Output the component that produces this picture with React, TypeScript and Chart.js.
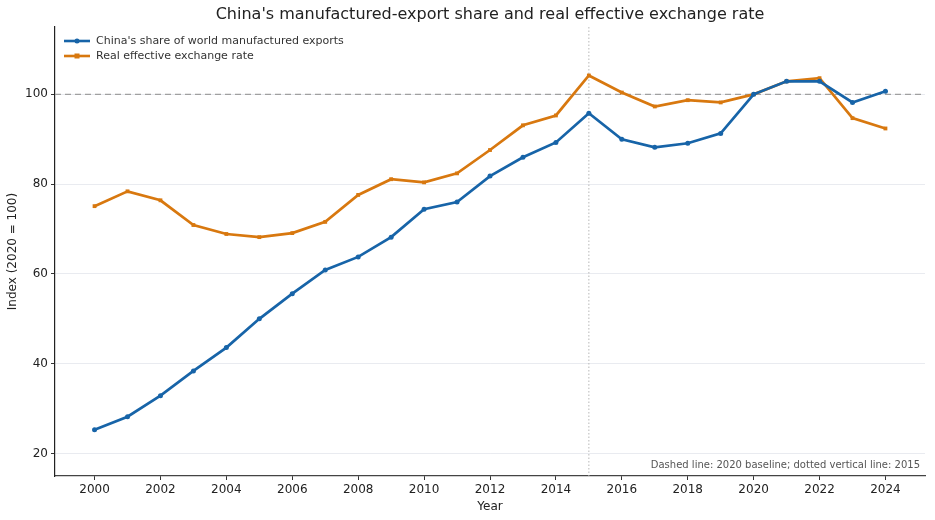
import React, { useEffect, useRef } from "react";
import { Chart, registerables } from "chart.js";

Chart.register(...registerables);

const YEARS = [2000, 2001, 2002, 2003, 2004, 2005, 2006, 2007, 2008, 2009, 2010, 2011, 2012, 2013, 2014, 2015, 2016, 2017, 2018, 2019, 2020, 2021, 2022, 2023, 2024];
const SHARE = [25.3, 28.2, 32.9, 38.4, 43.6, 50.0, 55.6, 60.9, 63.8, 68.2, 74.4, 76.0, 81.8, 86.0, 89.3, 95.8, 90.0, 88.2, 89.1, 91.3, 100.0, 102.9, 102.9, 98.2, 100.7];
const REER = [75.1, 78.4, 76.4, 70.9, 68.9, 68.2, 69.1, 71.6, 77.6, 81.1, 80.4, 82.4, 87.6, 93.1, 95.3, 104.2, 100.4, 97.3, 98.7, 98.2, 100.0, 102.9, 103.6, 94.7, 92.4];
const X_TICKS = [2000, 2002, 2004, 2006, 2008, 2010, 2012, 2014, 2016, 2018, 2020, 2022, 2024];
const Y_TICKS = [20, 40, 60, 80, 100];
const SERIES_LABELS = ["China's share of world manufactured exports", "Real effective exchange rate"];
const TITLE = "China's manufactured-export share and real effective exchange rate";
const NOTE = "Dashed line: 2020 baseline; dotted vertical line: 2015";
const BASELINE = 100;
const MARK_YEAR = 2015;

const BLUE = "#1764a8";
const ORANGE = "#d8780f";
const FONT = "'DejaVu Sans', sans-serif";

const overlayPlugin = {
  id: "overlay",
  beforeDatasetsDraw(chart: any) {
    const { ctx, chartArea, scales } = chart;
    const x = scales.x;
    const y = scales.y;
    ctx.save();
    // baseline dashed
    const yb = y.getPixelForValue(BASELINE);
    ctx.strokeStyle = "#a0a0a0";
    ctx.lineWidth = 1.4;
    ctx.setLineDash([6, 4]);
    ctx.beginPath();
    ctx.moveTo(chartArea.left, yb);
    ctx.lineTo(chartArea.right, yb);
    ctx.stroke();
    // dotted vertical
    const xv = x.getPixelForValue(MARK_YEAR);
    ctx.strokeStyle = "#b8b8b8";
    ctx.lineWidth = 1;
    ctx.setLineDash([1.5, 2]);
    ctx.beginPath();
    ctx.moveTo(xv, chartArea.top);
    ctx.lineTo(xv, chartArea.bottom);
    ctx.stroke();
    ctx.restore();
  },
  afterDraw(chart: any) {
    const { ctx, chartArea } = chart;
    ctx.save();
    // title
    ctx.fillStyle = "#222";
    ctx.font = `16px ${FONT}`;
    ctx.textAlign = "center";
    ctx.textBaseline = "middle";
    ctx.fillText(TITLE, (chartArea.left + chartArea.right) / 2, 15);
    // legend
    const colors = [BLUE, ORANGE];
    const styles = ["circle", "rect"];
    ctx.font = `11px ${FONT}`;
    ctx.textAlign = "left";
    for (let i = 0; i < 2; i++) {
      const ly = chartArea.top + 14 + i * 15;
      ctx.strokeStyle = colors[i];
      ctx.lineWidth = 2.6;
      ctx.setLineDash([]);
      ctx.beginPath();
      ctx.moveTo(chartArea.left + 9, ly);
      ctx.lineTo(chartArea.left + 35, ly);
      ctx.stroke();
      ctx.fillStyle = colors[i];
      const cx = chartArea.left + 22;
      if (styles[i] === "circle") {
        ctx.beginPath();
        ctx.arc(cx, ly, 2.5, 0, Math.PI * 2);
        ctx.fill();
      } else {
        ctx.fillRect(cx - 2.5, ly - 2.5, 5, 5);
      }
      ctx.fillStyle = "#333";
      ctx.fillText(SERIES_LABELS[i], chartArea.left + 41, ly + 0.5);
    }
    // note
    ctx.font = `10px ${FONT}`;
    ctx.fillStyle = "#555";
    ctx.textAlign = "right";
    ctx.fillText(NOTE, chartArea.right - 5, chartArea.bottom - 11);
    ctx.restore();
  },
};

export default function App() {
  const ref = useRef<HTMLCanvasElement | null>(null);
  useEffect(() => {
    document.body.style.margin = "0";
    const canvas = ref.current!;
    const chart = new Chart(canvas, {
      type: "line",
      data: {
        datasets: [
          {
            label: SERIES_LABELS[0],
            data: YEARS.map((yr, i) => ({ x: yr, y: SHARE[i] })),
            borderColor: BLUE,
            backgroundColor: BLUE,
            borderWidth: 2.7,
            pointStyle: "circle",
            pointRadius: 2.5,
            pointBorderWidth: 0,
            tension: 0,
          },
          {
            label: SERIES_LABELS[1],
            data: YEARS.map((yr, i) => ({ x: yr, y: REER[i] })),
            borderColor: ORANGE,
            backgroundColor: ORANGE,
            borderWidth: 2.7,
            pointStyle: "rect",
            pointRadius: 2.7,
            pointBorderWidth: 0,
            tension: 0,
          },
        ],
      },
      plugins: [overlayPlugin],
      options: {
        responsive: false,
        animation: false,
        devicePixelRatio: 1,
        layout: { padding: { top: 27, right: 10, left: 0, bottom: 0 } },
        plugins: {
          legend: { display: false },
          title: { display: false },
          tooltip: { enabled: false },
        },
        scales: {
          x: {
            type: "linear",
            min: 1998.8,
            max: 2025.2,
            afterBuildTicks: (axis: any) => {
              axis.ticks = X_TICKS.map((v) => ({ value: v }));
            },
            afterFit: (axis: any) => {
              axis.height = 44;
            },
            grid: {
              drawOnChartArea: false,
              drawTicks: true,
              tickLength: 4,
              tickColor: "#333",
            },
            border: { display: true, color: "#444", width: 1.2 },
            ticks: {
              autoSkip: false,
              maxRotation: 0,
              padding: 3,
              color: "#222",
              font: { family: FONT, size: 12 },
              callback: (v: any) => String(v),
            },
            title: {
              display: true,
              text: "Year",
              color: "#222",
              font: { family: FONT, size: 12 },
              padding: { top: 0, bottom: 6 },
            },
          },
          y: {
            type: "linear",
            min: 15,
            max: 115,
            afterBuildTicks: (axis: any) => {
              axis.ticks = Y_TICKS.map((v) => ({ value: v }));
            },
            afterFit: (axis: any) => {
              axis.width = 55;
            },
            grid: {
              color: "#e9ebf0",
              lineWidth: 1,
              drawTicks: true,
              tickLength: 4,
              tickColor: "#333",
            },
            border: { display: true, color: "#222", width: 1.2 },
            ticks: {
              padding: 3,
              color: "#222",
              font: { family: FONT, size: 12 },
              callback: (v: any) => String(v),
            },
            title: {
              display: true,
              text: "Index (2020 = 100)",
              color: "#222",
              font: { family: FONT, size: 12 },
              padding: { top: 6, bottom: 0 },
            },
          },
        },
      },
    } as any);
    return () => chart.destroy();
  }, []);
  return (
    <div style={{ position: "fixed", left: 0, top: 0, width: 935, height: 520, background: "#fff" }}>
      <canvas ref={ref} width={935} height={520} style={{ display: "block" }} />
    </div>
  );
}
